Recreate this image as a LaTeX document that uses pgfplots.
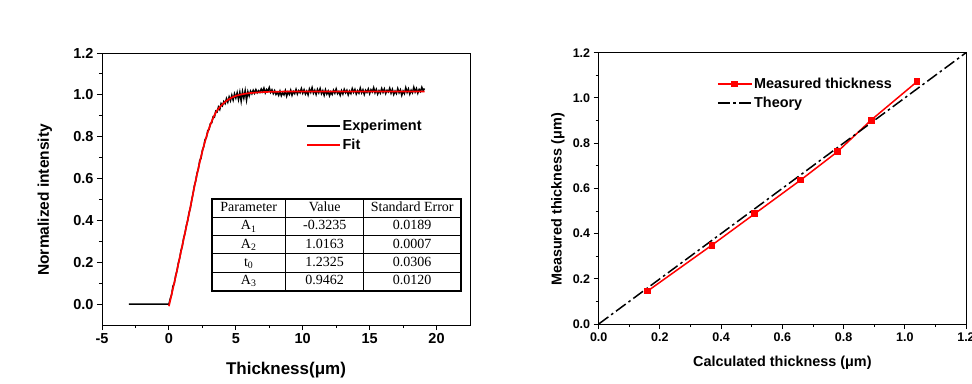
\documentclass[border=0pt]{standalone}
\usepackage{pgfplots}
\pgfplotsset{compat=1.18}
\usepackage{fontspec}
\setmainfont{Liberation Sans}
\newfontfamily\tablefont{Liberation Serif}
\pgfplotstableread{
x y
-3.0 0.000
-2.5 0.000
-2.0 0.000
-1.0 0.000
0.0 0.000
0.1 0.025
0.2 0.045
0.3 0.085
0.4 0.098
0.5 0.135
0.6 0.158
0.7 0.195
0.8 0.218
0.9 0.255
1.0 0.276
1.1 0.315
1.2 0.338
1.3 0.374
1.4 0.398
1.5 0.435
1.6 0.458
1.7 0.495
1.8 0.527
1.9 0.565
2.0 0.588
2.1 0.625
2.2 0.646
2.3 0.685
2.4 0.698
2.5 0.735
2.6 0.752
2.7 0.786
2.8 0.795
2.9 0.828
3.0 0.835
3.1 0.862
3.2 0.866
3.3 0.895
3.4 0.893
3.5 0.922
3.6 0.918
3.7 0.942
3.8 0.930
3.9 0.958
4.0 0.948
4.1 0.968
4.2 0.958
4.3 0.982
4.4 0.965
4.5 0.990
4.6 0.972
4.7 0.998
4.8 0.975
4.9 1.005
5.0 0.985
5.1 1.010
5.2 0.978
5.3 1.012
5.4 0.970
5.5 1.015
5.6 0.985
5.7 1.020
5.8 0.975
5.9 1.015
6.0 0.995
6.1 1.018
6.2 1.005
6.3 1.022
6.4 1.008
6.5 1.025
6.6 1.010
6.7 1.020
6.8 1.012
6.9 1.028
7.0 1.015
7.1 1.032
7.2 1.010
7.3 1.026
7.4 1.018
7.5 1.035
7.6 1.012
7.7 1.024
7.8 1.006
7.9 1.020
8.0 1.002
8.1 1.012
8.2 0.998
8.3 1.018
8.4 0.996
8.5 1.010
8.6 1.000
8.7 1.020
8.8 0.994
8.9 1.014
9.0 1.002
9.1 1.022
9.2 0.998
9.3 1.016
9.4 1.006
9.5 1.026
9.6 1.004
9.7 1.020
9.8 1.010
9.9 1.030
10.0 1.008
10.1 1.024
10.2 1.004
10.3 1.018
10.4 1.000
10.5 1.028
10.6 1.012
10.7 1.034
10.8 1.008
10.9 1.022
11.0 1.002
11.1 1.026
11.2 1.010
11.3 1.030
11.4 1.006
11.5 1.020
11.6 0.998
11.7 1.024
11.8 1.004
11.9 1.018
12.0 0.996
12.1 1.014
12.2 1.002
12.3 1.022
12.4 1.008
12.5 1.028
12.6 1.006
12.7 1.016
12.8 0.998
12.9 1.020
13.0 1.004
13.1 1.026
13.2 1.010
13.3 1.022
13.4 1.000
13.5 1.018
13.6 1.006
13.7 1.030
13.8 1.012
13.9 1.026
14.0 1.004
14.1 1.020
14.2 1.008
14.3 1.032
14.4 1.010
14.5 1.024
14.6 1.002
14.7 1.022
14.8 1.012
14.9 1.028
15.0 1.006
15.1 1.024
15.2 1.014
15.3 1.034
15.4 1.010
15.5 1.026
15.6 1.004
15.7 1.020
15.8 1.008
15.9 1.030
16.0 1.012
16.1 1.028
16.2 1.006
16.3 1.022
16.4 1.014
16.5 1.032
16.6 1.008
16.7 1.026
16.8 1.002
16.9 1.018
17.0 1.006
17.1 1.030
17.2 1.010
17.3 1.024
17.4 0.998
17.5 1.018
17.6 1.006
17.7 1.034
17.8 1.012
17.9 1.028
18.0 1.004
18.1 1.022
18.2 1.010
18.3 1.036
18.4 1.014
18.5 1.030
18.6 1.008
18.7 1.026
18.8 1.016
18.9 1.036
19.0 1.020
19.1 1.030
}\experiment
\pgfplotstableread{
x y
0.0 -0.010
0.5 0.130
1.0 0.280
1.5 0.430
2.0 0.590
2.5 0.730
3.0 0.840
3.5 0.915
4.0 0.955
4.5 0.980
5.0 0.995
5.5 1.003
6.0 1.008
7.0 1.013
8.0 1.015
10.0 1.016
19.1 1.016
}\fit
\pgfplotstableread{
x y
0.16 0.146
0.37 0.349
0.51 0.488
0.66 0.637
0.78 0.762
0.89 0.902
1.04 1.072
}\measured
\begin{document}
\begin{tikzpicture}
\useasboundingbox (0pt,0pt) rectangle (972pt,383pt);
\pgfplotsset{
  common/.style={
    scale only axis,
    tick align=outside,
    tick pos=left,
    minor tick num=1,
    major tick length=5pt,
    minor tick length=3pt,
    axis line style={line width=0.9pt},
    every tick/.append style={black, line width=0.9pt},
    /pgf/number format/assume math mode=true,
    /pgf/number format/fixed,
    /pgf/number format/fixed zerofill,
    /pgf/number format/precision=1,
    legend cell align=left,
    legend style={draw=none, fill=none, inner sep=0pt, row sep=4pt,
      nodes={inner sep=1.5pt}},
  },
}
% ---------- left chart ----------
\begin{axis}[common,
  at={(102pt,58pt)}, anchor=south west,
  width=368pt, height=272pt,
  xmin=-5, xmax=22.5, ymin=-0.1, ymax=1.2,
  xtick={-5,0,5,10,15,20},
  ytick={0,0.2,0.4,0.6,0.8,1.0,1.2},
  xticklabels={-5,0,5,10,15,20},
  ticklabel style={font=\bfseries\fontsize{14.5}{14.5}\selectfont},
  xlabel={Thickness(μm)},
  ylabel={Normalized intensity},
  xlabel style={at={(axis description cs:0.5,-0.165)}, anchor=center, font=\bfseries\fontsize{17}{17}\selectfont},
  ylabel style={at={(axis description cs:-0.155,0.46)}, anchor=center, font=\bfseries\fontsize{15.5}{15.5}\selectfont},
  legend style={at={(axis description cs:0.555,0.76)}, anchor=north west,
    font=\bfseries\fontsize{14.5}{14.5}\selectfont},
  legend image code/.code={\draw[#1] (0pt,0pt) -- (33pt,0pt);},
]
\addplot[black, line width=1.5pt] table[x=x,y=y] {\experiment};
\addlegendentry{Experiment}
\addplot[red, line width=1.7pt, smooth] table[x=x,y=y] {\fit};
\addlegendentry{Fit}
\node[anchor=north west, inner sep=0pt, draw, line width=1.6pt] at (axis description cs:0.296,0.467) {%
  \tablefont\fontsize{14}{14}\selectfont\setlength\tabcolsep{0pt}\setlength\arrayrulewidth{1pt}%
  \begin{tabular}{|c|c|c|}\hline
  \makebox[74pt]{\rule[-5.2pt]{0pt}{17.2pt}Parameter} & \makebox[78pt]{Value} & \makebox[97pt]{Standard Error}\\\hline
  \rule[-5.2pt]{0pt}{17.2pt}A\textsubscript{1} & -0.3235 & 0.0189\\\hline
  \rule[-5.2pt]{0pt}{17.2pt}A\textsubscript{2} & 1.0163 & 0.0007\\\hline
  \rule[-5.2pt]{0pt}{17.2pt}t\textsubscript{0} & 1.2325 & 0.0306\\\hline
  \rule[-5.2pt]{0pt}{17.2pt}A\textsubscript{3} & 0.9462 & 0.0120\\\hline
  \end{tabular}};
\end{axis}
% ---------- right chart ----------
\begin{axis}[common,
  at={(598.7pt,59pt)}, anchor=south west,
  width=367.3pt, height=271.3pt,
  xmin=0, xmax=1.2, ymin=0, ymax=1.2,
  xtick={0,0.2,0.4,0.6,0.8,1.0,1.2},
  ytick={0,0.2,0.4,0.6,0.8,1.0,1.2},
  ticklabel style={font=\bfseries\fontsize{12.5}{12.5}\selectfont},
  xlabel={Calculated thickness (μm)},
  ylabel={Measured thickness (μm)},
  xlabel style={at={(axis description cs:0.5,-0.144)}, anchor=center, font=\bfseries\fontsize{14.4}{14.4}\selectfont},
  ylabel style={at={(axis description cs:-0.111,0.459)}, anchor=center, font=\bfseries\fontsize{14.4}{14.4}\selectfont},
  legend style={at={(axis description cs:0.322,0.913)}, anchor=north west,
    font=\bfseries\fontsize{14.4}{14.4}\selectfont},
  legend image code/.code={\draw[mark repeat=2, mark phase=2, #1] plot coordinates {(0pt,0pt) (17pt,0pt) (34pt,0pt)};},
]
\addplot[red, line width=1.5pt, mark=square*, mark size=2.7pt, mark options={solid, fill=red}] table[x=x,y=y] {\measured};
\addlegendentry{Measured thickness}
\addplot[black, line width=1.5pt, dash pattern=on 12pt off 3.5pt on 2.5pt off 3.5pt] coordinates {(0,0) (1.2,1.2)};
\addlegendentry{Theory}
\end{axis}
\end{tikzpicture}
\end{document}
